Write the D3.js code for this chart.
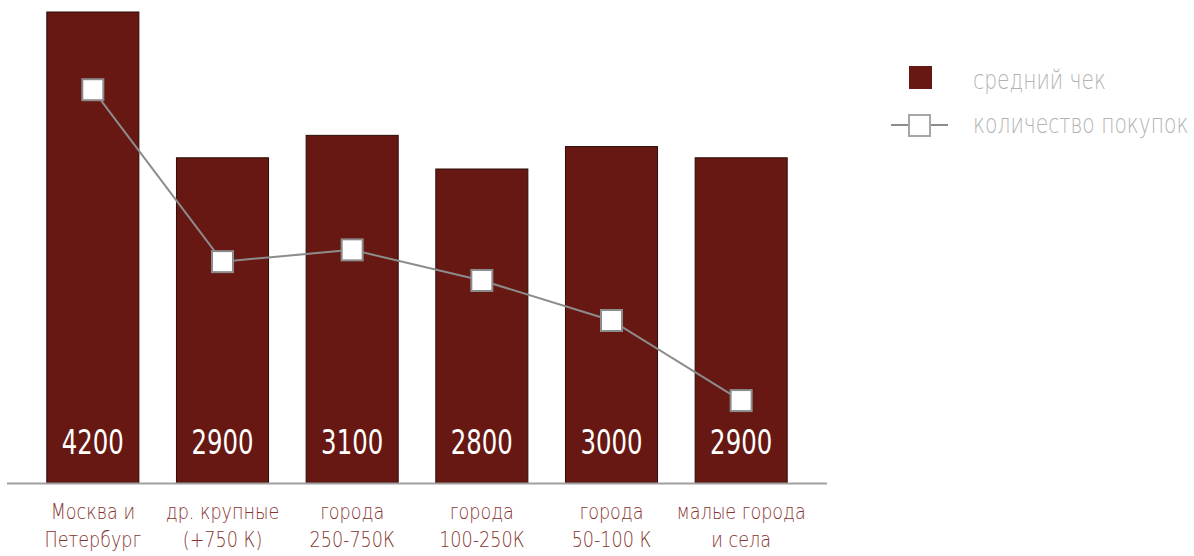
<!DOCTYPE html>
<html>
<head>
<meta charset="utf-8">
<script src="https://cdn.jsdelivr.net/npm/d3@7"></script>
<style>
  html, body { margin: 0; padding: 0; background: #fff; }
  svg { display: block; font-family: "DejaVu Sans", sans-serif; }
</style>
</head>
<body>
<svg id="chart" width="1194" height="556"></svg>
<script>
const categories = [
  ["Москва и", "Петербург"],
  ["др. крупные", "(+750 К)"],
  ["города", "250-750К"],
  ["города", "100-250К"],
  ["города", "50-100 К"],
  ["малые города", "и села"]
];
const avgCheck = [4200, 2900, 3100, 2800, 3000, 2900];
const purchases = [83.5, 47, 49.5, 43, 34.5, 17.5];
const legendLabels = ["средний чек", "количество покупок"];

const svg = d3.select("#chart");
const barColor = "#671812";
const lineColor = "#8c8c8c";

// condensed text helper: draws text at (x,y) squeezed horizontally by k
function squeezed(parent, px, py, str, k) {
  return parent.append("text")
    .attr("transform", `translate(${px},${py}) scale(${k},1)`)
    .text(str);
}

const x = d3.scaleBand()
  .domain(d3.range(categories.length))
  .range([28, 806])
  .paddingInner(0.29)
  .paddingOuter(0.145);

const y = d3.scaleLinear().domain([0, 4200]).range([483, 12]);
const y2 = d3.scaleLinear().domain([0, 100]).range([483, 12]);
const cx = i => x(i) + x.bandwidth() / 2;

// bars
svg.append("g").selectAll("rect")
  .data(avgCheck)
  .join("rect")
  .attr("x", (d, i) => x(i))
  .attr("y", d => y(d))
  .attr("width", x.bandwidth())
  .attr("height", d => y(0) - y(d))
  .attr("fill", barColor)
  .attr("stroke", "#2b0d0a")
  .attr("stroke-width", 1);

// value labels
const vg = svg.append("g")
  .attr("text-anchor", "middle")
  .attr("fill", "#ffffff")
  .attr("font-size", 33);
avgCheck.forEach((d, i) => squeezed(vg, cx(i), 454, d, 0.74));

// baseline axis
svg.append("line")
  .attr("x1", 7).attr("x2", 827)
  .attr("y1", y(0) + 0.5).attr("y2", y(0) + 0.5)
  .attr("stroke", "#a0a0a0")
  .attr("stroke-width", 2);

// category labels
const cg = svg.append("g")
  .attr("text-anchor", "middle")
  .attr("fill", "#86342f")
  .attr("font-size", 22)
  .attr("font-weight", 300);
categories.forEach((d, i) => {
  d.forEach((line, j) => squeezed(cg, cx(i), 519 + j * 27.5, line, 0.8));
});

// line
const line = d3.line()
  .x((d, i) => cx(i))
  .y(d => y2(d));
svg.append("path")
  .datum(purchases)
  .attr("d", line)
  .attr("fill", "none")
  .attr("stroke", lineColor)
  .attr("stroke-width", 2);

const ms = 21;
svg.append("g").selectAll("rect")
  .data(purchases)
  .join("rect")
  .attr("x", (d, i) => cx(i) - ms / 2)
  .attr("y", d => y2(d) - ms / 2)
  .attr("width", ms)
  .attr("height", ms)
  .attr("fill", "#ffffff")
  .attr("stroke", lineColor)
  .attr("stroke-width", 2);

// legend
const lg = svg.append("g");
lg.append("rect")
  .attr("x", 909).attr("y", 66).attr("width", 23).attr("height", 23)
  .attr("fill", barColor);
lg.append("line")
  .attr("x1", 891).attr("x2", 948).attr("y1", 125).attr("y2", 125)
  .attr("stroke", lineColor).attr("stroke-width", 2);
lg.append("rect")
  .attr("x", 909).attr("y", 115).attr("width", 21).attr("height", 21)
  .attr("fill", "#fff").attr("stroke", "#a6a6a6").attr("stroke-width", 2);
const lt = lg.append("g")
  .attr("fill", "#b3b3b3")
  .attr("font-size", 26)
  .attr("font-weight", 200);
squeezed(lt, 973, 89, legendLabels[0], 0.78);
squeezed(lt, 973, 133, legendLabels[1], 0.78);
</script>
</body>
</html>
